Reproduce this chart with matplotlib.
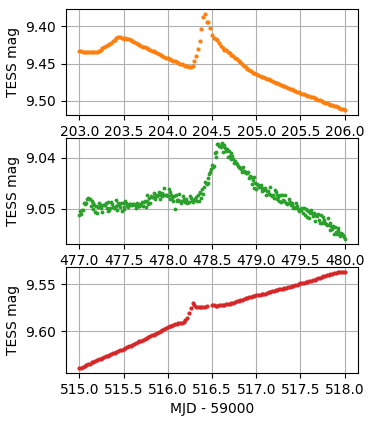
import numpy as np
import matplotlib
matplotlib.use('Agg')
import matplotlib.pyplot as plt

# light curves, one point every 0.02 d (green every 0.01 d), mag
orange_t = np.linspace(203.0, 206.0, 151)
orange_mag = [
    9.4327, 9.4335, 9.4340, 9.4338, 9.4344, 9.4345, 9.4342, 9.4346, 9.4341, 9.4343,
    9.4338, 9.4330, 9.4312, 9.4297, 9.4275, 9.4262, 9.4252, 9.4236, 9.4227, 9.4203,
    9.4183, 9.4160, 9.4140, 9.4147, 9.4163, 9.4172, 9.4162, 9.4167, 9.4170, 9.4187,
    9.4195, 9.4212, 9.4224, 9.4240, 9.4247, 9.4260, 9.4271, 9.4281, 9.4293, 9.4302,
    9.4314, 9.4326, 9.4336, 9.4349, 9.4359, 9.4372, 9.4382, 9.4396, 9.4405, 9.4419,
    9.4429, 9.4441, 9.4449, 9.4462, 9.4470, 9.4482, 9.4490, 9.4501, 9.4508, 9.4519,
    9.4527, 9.4534, 9.4545, 9.4552, 9.4535, 9.4470, 9.4400, 9.4310, 9.4190, 9.4030,
    9.3870, 9.3830, 9.3940, 9.3935, 9.4020, 9.4110, 9.4150, 9.4166, 9.4185, 9.4221,
    9.4258, 9.4284, 9.4311, 9.4324, 9.4346, 9.4363, 9.4386, 9.4404, 9.4426, 9.4441,
    9.4460, 9.4483, 9.4504, 9.4528, 9.4549, 9.4571, 9.4589, 9.4604, 9.4621, 9.4632,
    9.4646, 9.4656, 9.4663, 9.4674, 9.4681, 9.4690, 9.4703, 9.4713, 9.4726, 9.4736,
    9.4748, 9.4759, 9.4767, 9.4778, 9.4786, 9.4796, 9.4807, 9.4815, 9.4827, 9.4835,
    9.4845, 9.4856, 9.4864, 9.4876, 9.4884, 9.4894, 9.4904, 9.4911, 9.4922, 9.4929,
    9.4938, 9.4948, 9.4954, 9.4964, 9.4971, 9.4982, 9.4994, 9.5003, 9.5016, 9.5024,
    9.5035, 9.5043, 9.5049, 9.5058, 9.5063, 9.5071, 9.5082, 9.5091, 9.5104, 9.5113,
    9.5124,
]

green_t = np.linspace(477.0, 480.0, 301)
green_mag = [
    9.0512, 9.0505, 9.0510, 9.0503, 9.0502, 9.0489, 9.0489, 9.0491, 9.0489, 9.0481,
    9.0479, 9.0480, 9.0481, 9.0494, 9.0485, 9.0501, 9.0489, 9.0493, 9.0507, 9.0495,
    9.0508, 9.0496, 9.0489, 9.0493, 9.0498, 9.0492, 9.0506, 9.0492, 9.0492, 9.0492,
    9.0488, 9.0499, 9.0504, 9.0487, 9.0502, 9.0498, 9.0487, 9.0491, 9.0497, 9.0498,
    9.0499, 9.0483, 9.0495, 9.0503, 9.0488, 9.0492, 9.0496, 9.0489, 9.0504, 9.0488,
    9.0497, 9.0500, 9.0485, 9.0488, 9.0492, 9.0496, 9.0490, 9.0491, 9.0490, 9.0493,
    9.0492, 9.0491, 9.0491, 9.0492, 9.0498, 9.0488, 9.0494, 9.0495, 9.0495, 9.0491,
    9.0492, 9.0487, 9.0494, 9.0487, 9.0485, 9.0496, 9.0484, 9.0473, 9.0491, 9.0479,
    9.0488, 9.0475, 9.0476, 9.0477, 9.0477, 9.0470, 9.0481, 9.0473, 9.0474, 9.0473,
    9.0467, 9.0480, 9.0472, 9.0470, 9.0474, 9.0473, 9.0459, 9.0473, 9.0473, 9.0472,
    9.0475, 9.0462, 9.0467, 9.0481, 9.0473, 9.0478, 9.0485, 9.0474, 9.0500, 9.0472,
    9.0483, 9.0484, 9.0483, 9.0471, 9.0485, 9.0488, 9.0485, 9.0475, 9.0481, 9.0486,
    9.0482, 9.0480, 9.0489, 9.0486, 9.0486, 9.0475, 9.0479, 9.0485, 9.0487, 9.0482,
    9.0482, 9.0480, 9.0476, 9.0485, 9.0473, 9.0485, 9.0469, 9.0468, 9.0478, 9.0462,
    9.0471, 9.0457, 9.0447, 9.0449, 9.0451, 9.0440, 9.0450, 9.0432, 9.0427, 9.0422,
    9.0413, 9.0417, 9.0415, 9.0391, 9.0399, 9.0389, 9.0373, 9.0373, 9.0377, 9.0377,
    9.0379, 9.0370, 9.0377, 9.0388, 9.0375, 9.0381, 9.0387, 9.0382, 9.0399, 9.0386,
    9.0397, 9.0403, 9.0391, 9.0397, 9.0403, 9.0409, 9.0405, 9.0409, 9.0411, 9.0416,
    9.0418, 9.0418, 9.0419, 9.0421, 9.0428, 9.0418, 9.0426, 9.0428, 9.0429, 9.0427,
    9.0429, 9.0428, 9.0439, 9.0436, 9.0438, 9.0452, 9.0444, 9.0437, 9.0459, 9.0450,
    9.0462, 9.0451, 9.0454, 9.0457, 9.0458, 9.0453, 9.0466, 9.0459, 9.0462, 9.0463,
    9.0459, 9.0473, 9.0466, 9.0465, 9.0471, 9.0471, 9.0457, 9.0473, 9.0474, 9.0473,
    9.0478, 9.0464, 9.0468, 9.0481, 9.0472, 9.0477, 9.0484, 9.0473, 9.0487, 9.0472,
    9.0483, 9.0485, 9.0484, 9.0473, 9.0488, 9.0491, 9.0489, 9.0480, 9.0487, 9.0493,
    9.0490, 9.0489, 9.0499, 9.0497, 9.0499, 9.0489, 9.0494, 9.0501, 9.0504, 9.0501,
    9.0502, 9.0502, 9.0498, 9.0509, 9.0499, 9.0513, 9.0500, 9.0503, 9.0516, 9.0504,
    9.0518, 9.0508, 9.0502, 9.0508, 9.0514, 9.0509, 9.0524, 9.0512, 9.0513, 9.0514,
    9.0511, 9.0523, 9.0529, 9.0513, 9.0529, 9.0527, 9.0517, 9.0522, 9.0529, 9.0531,
    9.0533, 9.0518, 9.0532, 9.0542, 9.0529, 9.0534, 9.0539, 9.0534, 9.0550, 9.0536,
    9.0546, 9.0550, 9.0538, 9.0542, 9.0547, 9.0553, 9.0548, 9.0550, 9.0552, 9.0556,
    9.0560,
]

red_t = np.linspace(515.0, 518.0, 151)
red_mag = [
    9.6398, 9.6392, 9.6380, 9.6373, 9.6362, 9.6355, 9.6349, 9.6336, 9.6330, 9.6320,
    9.6313, 9.6303, 9.6297, 9.6286, 9.6280, 9.6272, 9.6262, 9.6256, 9.6246, 9.6240,
    9.6231, 9.6220, 9.6215, 9.6204, 9.6199, 9.6190, 9.6180, 9.6174, 9.6162, 9.6156,
    9.6146, 9.6135, 9.6129, 9.6117, 9.6111, 9.6101, 9.6090, 9.6084, 9.6072, 9.6066,
    9.6055, 9.6044, 9.6037, 9.6026, 9.6019, 9.6008, 9.5996, 9.5990, 9.5977, 9.5971,
    9.5960, 9.5950, 9.5942, 9.5930, 9.5925, 9.5920, 9.5918, 9.5916, 9.5912, 9.5902,
    9.5885, 9.5855, 9.5805, 9.5750, 9.5700, 9.5722, 9.5738, 9.5744, 9.5746, 9.5744,
    9.5741, 9.5738, 9.5734, np.nan, np.nan, 9.5722, 9.5725, 9.5727, 9.5726, 9.5724,
    9.5723, 9.5721, 9.5717, 9.5712, 9.5708, 9.5705, 9.5700, 9.5694, 9.5688, 9.5682,
    9.5676, 9.5670, 9.5663, 9.5657, 9.5650, 9.5644, 9.5638, 9.5632, 9.5627, 9.5621,
    9.5615, 9.5612, 9.5608, 9.5604, 9.5600, 9.5597, 9.5591, 9.5585, 9.5580, 9.5574,
    9.5568, 9.5563, 9.5558, 9.5553, 9.5548, 9.5543, 9.5538, 9.5533, 9.5528, 9.5523,
    9.5518, 9.5512, 9.5506, 9.5501, 9.5495, 9.5489, 9.5484, 9.5479, 9.5474, 9.5469,
    9.5464, 9.5458, 9.5452, 9.5447, 9.5441, 9.5435, 9.5428, 9.5421, 9.5413, 9.5406,
    9.5399, 9.5393, 9.5388, 9.5383, 9.5378, 9.5374, 9.5370, 9.5366, 9.5364, 9.5365,
    9.5367,
]

orange_xticks = [203.0, 203.5, 204.0, 204.5, 205.0, 205.5, 206.0]
green_xticks = [477.0, 477.5, 478.0, 478.5, 479.0, 479.5, 480.0]
red_xticks = [515.0, 515.5, 516.0, 516.5, 517.0, 517.5, 518.0]
orange_yticks = [9.40, 9.45, 9.50]
green_yticks = [9.04, 9.05]
red_yticks = [9.55, 9.60]

fig, axes = plt.subplots(3, 1, figsize=(3.74, 4.22), dpi=100)
fig.subplots_adjust(left=0.1765, right=0.957, top=0.979, bottom=0.116, hspace=0.217)

panels = [
    (orange_t, orange_mag, 'tab:orange', 4, orange_xticks, orange_yticks),
    (green_t, green_mag, 'tab:green', 3.5, green_xticks, green_yticks),
    (red_t, red_mag, 'tab:red', 4, red_xticks, red_yticks),
]
for ax, (t, mag, col, size, xt, yt) in zip(axes, panels):
    ax.plot(t, mag, '.', color=col, ms=size)
    ax.set_xticks(xt)
    ax.set_yticks(yt)
    ax.invert_yaxis()
    ax.grid(True)
    ax.set_axisbelow(True)
    ax.set_ylabel('TESS mag')

axes[2].set_xlabel('MJD - 59000')

plt.savefig('out.png', dpi=100)
